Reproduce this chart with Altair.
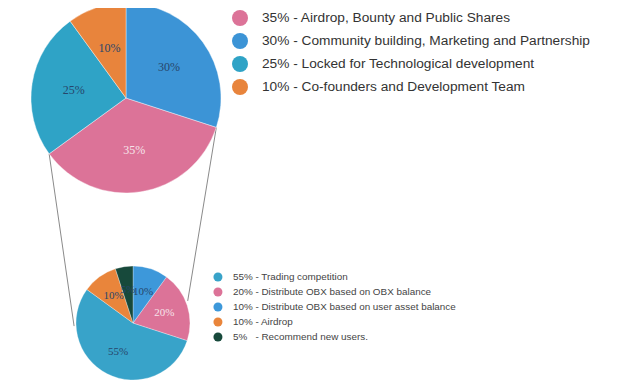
import math
import altair as alt
import pandas as pd

# ---------------- data ----------------
top_names = [
    "Airdrop, Bounty and Public Shares",
    "Community building, Marketing and Partnership",
    "Locked for Technological development",
    "Co-founders and Development Team",
]
top_shares = [35, 30, 25, 10]
top_clockwise = [2, 1, 3, 4]          # slice order clockwise from 12 o'clock
top_colors = ["#dc7398", "#3c94d6", "#2fa3c6", "#e8843c"]

bottom_names = [
    "Trading competition",
    "Distribute OBX based on OBX balance",
    "Distribute OBX based on user asset balance",
    "Airdrop",
    "Recommend new users.",
]
bottom_shares = [55, 20, 10, 10, 5]
bottom_clockwise = [3, 2, 1, 4, 5]
bottom_colors = ["#38a3c9", "#dc7398", "#3d98da", "#e9853b", "#17493b"]

# ---------------- layout ----------------
W, H = 608, 376
TOP_C, TOP_R = (118, 90), 95
BOT_C, BOT_R = (125, 315), 57
DARK = "#27466b"
LIGHT = "#f6e3ea"


def legend_text(share, name):
    pct = f"{share}%"
    pct = pct + "\u2007" * (3 - len(pct))
    return f"{pct} - {name}"


top_df = pd.DataFrame({
    "name": top_names,
    "share": top_shares,
    "pos": top_clockwise,
    "legend": [legend_text(s, n) for s, n in zip(top_shares, top_names)],
    "pct": [f"{s}%" for s in top_shares],
})
bot_df = pd.DataFrame({
    "name": bottom_names,
    "share": bottom_shares,
    "pos": bottom_clockwise,
    "legend": [legend_text(s, n) for s, n in zip(bottom_shares, bottom_names)],
    "pct": [f"{s}%" for s in bottom_shares],
})

theta = alt.Theta("share:Q", stack=True)
order = alt.Order("pos:Q", sort="ascending")

top_pie = alt.Chart(top_df).mark_arc(outerRadius=TOP_R, stroke="#ffffff", strokeWidth=0.4).encode(
    theta=theta,
    order=order,
    x=alt.value(TOP_C[0]),
    y=alt.value(TOP_C[1]),
    color=alt.Color(
        "legend:N",
        scale=alt.Scale(domain=list(top_df["legend"]), range=top_colors),
        legend=alt.Legend(
            orient="none", legendX=224, legendY=2, title=None,
            symbolType="circle", symbolSize=256, symbolStrokeWidth=0,
            labelFontSize=13.7, labelFont="Liberation Sans", labelColor="#333333",
            labelOffset=14, rowPadding=7, labelLimit=600, padding=0,
        ),
    ),
)

top_text = alt.Chart(top_df).mark_text(
    radius=53, font="Liberation Serif", fontSize=12
).encode(
    theta=theta,
    order=order,
    x=alt.value(TOP_C[0]),
    y=alt.value(TOP_C[1]),
    text="pct:N",
    color=alt.condition(f"datum.name == '{top_names[0]}'", alt.value(LIGHT), alt.value(DARK)),
)

bot_pie = alt.Chart(bot_df).mark_arc(outerRadius=BOT_R, stroke="#ffffff", strokeWidth=0.3).encode(
    theta=theta,
    order=order,
    x=alt.value(BOT_C[0]),
    y=alt.value(BOT_C[1]),
    color=alt.Color(
        "legend:N",
        scale=alt.Scale(domain=list(bot_df["legend"]), range=bottom_colors),
        legend=alt.Legend(
            orient="none", legendX=205, legendY=264, title=None,
            symbolType="circle", symbolSize=81, symbolStrokeWidth=0,
            labelFontSize=9.9, labelFont="Liberation Sans", labelColor="#444444",
            labelOffset=10, rowPadding=4, labelLimit=600, padding=0,
        ),
    ),
)

bot_text = alt.Chart(bot_df).mark_text(
    radius=33, font="Liberation Serif", fontSize=11
).encode(
    theta=theta,
    order=order,
    x=alt.value(BOT_C[0]),
    y=alt.value(BOT_C[1]),
    text="pct:N",
    color=alt.condition(f"datum.name == '{bottom_names[1]}'", alt.value(LIGHT), alt.value(DARK)),
)

# connector lines from the top pie's pink-slice boundaries to the small pie
cum = 0
bounds = {}
for p, s in sorted(zip(top_clockwise, top_shares)):
    bounds[p] = (cum, cum + s)
    cum += s
pink_start, pink_end = bounds[top_clockwise[0]]


def on_circle(c, r, deg):
    a = math.radians(deg)
    return c[0] + r * math.sin(a), c[1] - r * math.cos(a)


r1 = on_circle(TOP_C, TOP_R, pink_start * 3.6)
r2 = on_circle(BOT_C, BOT_R + 2, 68)
l1 = on_circle(TOP_C, TOP_R, pink_end * 3.6)
l2 = on_circle(BOT_C, BOT_R + 2, 267)

line_src = pd.DataFrame({"k": [0]})
right_line = alt.Chart(line_src).mark_rule(color="#8a8a8a", strokeWidth=1).encode(
    x=alt.value(r1[0]), y=alt.value(r1[1]), x2=alt.value(r2[0]), y2=alt.value(r2[1])
)
left_line = alt.Chart(line_src).mark_rule(color="#8a8a8a", strokeWidth=1).encode(
    x=alt.value(l1[0]), y=alt.value(l1[1]), x2=alt.value(l2[0]), y2=alt.value(l2[1])
)

chart = (
    alt.layer(left_line, right_line, top_pie, top_text, bot_pie, bot_text)
    .resolve_scale(color="independent", theta="independent")
    .properties(width=W, height=H, padding=0, autosize=alt.AutoSizeParams(type="none"))
    .configure_view(stroke=None)
)

chart.save("out.html", embed_options={"renderer": "svg", "actions": False})
